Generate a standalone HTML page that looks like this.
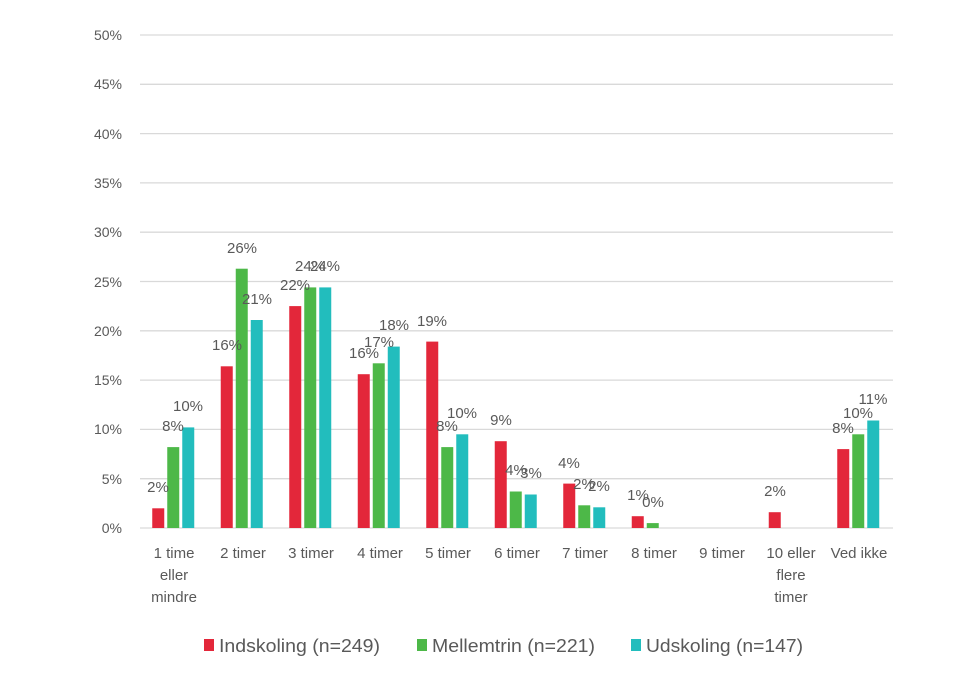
<!DOCTYPE html><html><head><style>body{margin:0;background:#fff}svg{display:block;font-family:"Liberation Sans",sans-serif}</style></head><body>
<svg width="960" height="676" xmlns="http://www.w3.org/2000/svg">
<g stroke="#d9d9d9" stroke-width="1.3">
<line x1="140" x2="893" y1="35" y2="35"/><line x1="140" x2="893" y1="84.3" y2="84.3"/><line x1="140" x2="893" y1="133.6" y2="133.6"/><line x1="140" x2="893" y1="182.9" y2="182.9"/><line x1="140" x2="893" y1="232.2" y2="232.2"/><line x1="140" x2="893" y1="281.5" y2="281.5"/><line x1="140" x2="893" y1="330.8" y2="330.8"/><line x1="140" x2="893" y1="380.1" y2="380.1"/><line x1="140" x2="893" y1="429.4" y2="429.4"/><line x1="140" x2="893" y1="478.7" y2="478.7"/><line x1="140" x2="893" y1="528" y2="528"/>
</g>
<g fill="#595959" font-size="14" text-anchor="end">
<text x="122" y="40">50%</text><text x="122" y="89">45%</text><text x="122" y="139">40%</text><text x="122" y="188">35%</text><text x="122" y="237">30%</text><text x="122" y="287">25%</text><text x="122" y="336">20%</text><text x="122" y="385">15%</text><text x="122" y="434">10%</text><text x="122" y="484">5%</text><text x="122" y="533">0%</text>
</g>
<g fill="#e3273a">
<rect x="152.25" y="508.3" width="12" height="19.7"/><rect x="220.75" y="366.3" width="12" height="161.7"/><rect x="289.25" y="306.1" width="12" height="221.9"/><rect x="357.75" y="374.2" width="12" height="153.8"/><rect x="426.25" y="341.6" width="12" height="186.4"/><rect x="494.75" y="441.2" width="12" height="86.8"/><rect x="563.25" y="483.6" width="12" height="44.4"/><rect x="631.75" y="516.2" width="12" height="11.8"/><rect x="768.75" y="512.2" width="12" height="15.8"/><rect x="837.25" y="449.1" width="12" height="78.9"/>
</g>
<g fill="#4db848">
<rect x="167.25" y="447.1" width="12" height="80.9"/><rect x="235.75" y="268.7" width="12" height="259.3"/><rect x="304.25" y="287.4" width="12" height="240.6"/><rect x="372.75" y="363.3" width="12" height="164.7"/><rect x="441.25" y="447.1" width="12" height="80.9"/><rect x="509.75" y="491.5" width="12" height="36.5"/><rect x="578.25" y="505.3" width="12" height="22.7"/><rect x="646.75" y="523.1" width="12" height="4.9"/><rect x="852.25" y="434.3" width="12" height="93.7"/>
</g>
<g fill="#22bdbd">
<rect x="182.25" y="427.4" width="12" height="100.6"/><rect x="250.75" y="320" width="12" height="208"/><rect x="319.25" y="287.4" width="12" height="240.6"/><rect x="387.75" y="346.6" width="12" height="181.4"/><rect x="456.25" y="434.3" width="12" height="93.7"/><rect x="524.75" y="494.5" width="12" height="33.5"/><rect x="593.25" y="507.3" width="12" height="20.7"/><rect x="867.25" y="420.5" width="12" height="107.5"/>
</g>
<g fill="#595959" font-size="15" text-anchor="middle">
<text x="158" y="492">2%</text><text x="173" y="431">8%</text><text x="188" y="411">10%</text>
<text x="227" y="350">16%</text><text x="242" y="253">26%</text><text x="257" y="304">21%</text>
<text x="295" y="290">22%</text><text x="310" y="271">24%</text><text x="325" y="271">24%</text>
<text x="364" y="358">16%</text><text x="379" y="347">17%</text><text x="394" y="330">18%</text>
<text x="432" y="326">19%</text><text x="447" y="431">8%</text><text x="462" y="418">10%</text>
<text x="501" y="425">9%</text><text x="516" y="475">4%</text><text x="531" y="478">3%</text>
<text x="569" y="468">4%</text><text x="584" y="489">2%</text><text x="599" y="491">2%</text>
<text x="638" y="500">1%</text><text x="653" y="507">0%</text>
<text x="775" y="496">2%</text>
<text x="843" y="433">8%</text><text x="858" y="418">10%</text><text x="873" y="404">11%</text>
</g>
<g fill="#595959" font-size="15" text-anchor="middle">
<text x="174" y="558">1 time</text><text x="174" y="580">eller</text><text x="174" y="602">mindre</text>
<text x="243" y="558">2 timer</text><text x="311" y="558">3 timer</text><text x="380" y="558">4 timer</text><text x="448" y="558">5 timer</text><text x="517" y="558">6 timer</text><text x="585" y="558">7 timer</text><text x="654" y="558">8 timer</text><text x="722" y="558">9 timer</text>
<text x="791" y="558">10 eller</text><text x="791" y="580">flere</text><text x="791" y="602">timer</text>
<text x="859" y="558">Ved ikke</text>
</g>
<g font-size="18" fill="#595959">
<rect x="204" y="639" width="10" height="12" fill="#e3273a"/><text x="219" y="652" textLength="161" lengthAdjust="spacingAndGlyphs">Indskoling (n=249)</text>
<rect x="417" y="639" width="10" height="12" fill="#4db848"/><text x="432" y="652" textLength="163" lengthAdjust="spacingAndGlyphs">Mellemtrin (n=221)</text>
<rect x="631" y="639" width="10" height="12" fill="#22bdbd"/><text x="646" y="652" textLength="157" lengthAdjust="spacingAndGlyphs">Udskoling (n=147)</text>
</g>
</svg></body></html>
